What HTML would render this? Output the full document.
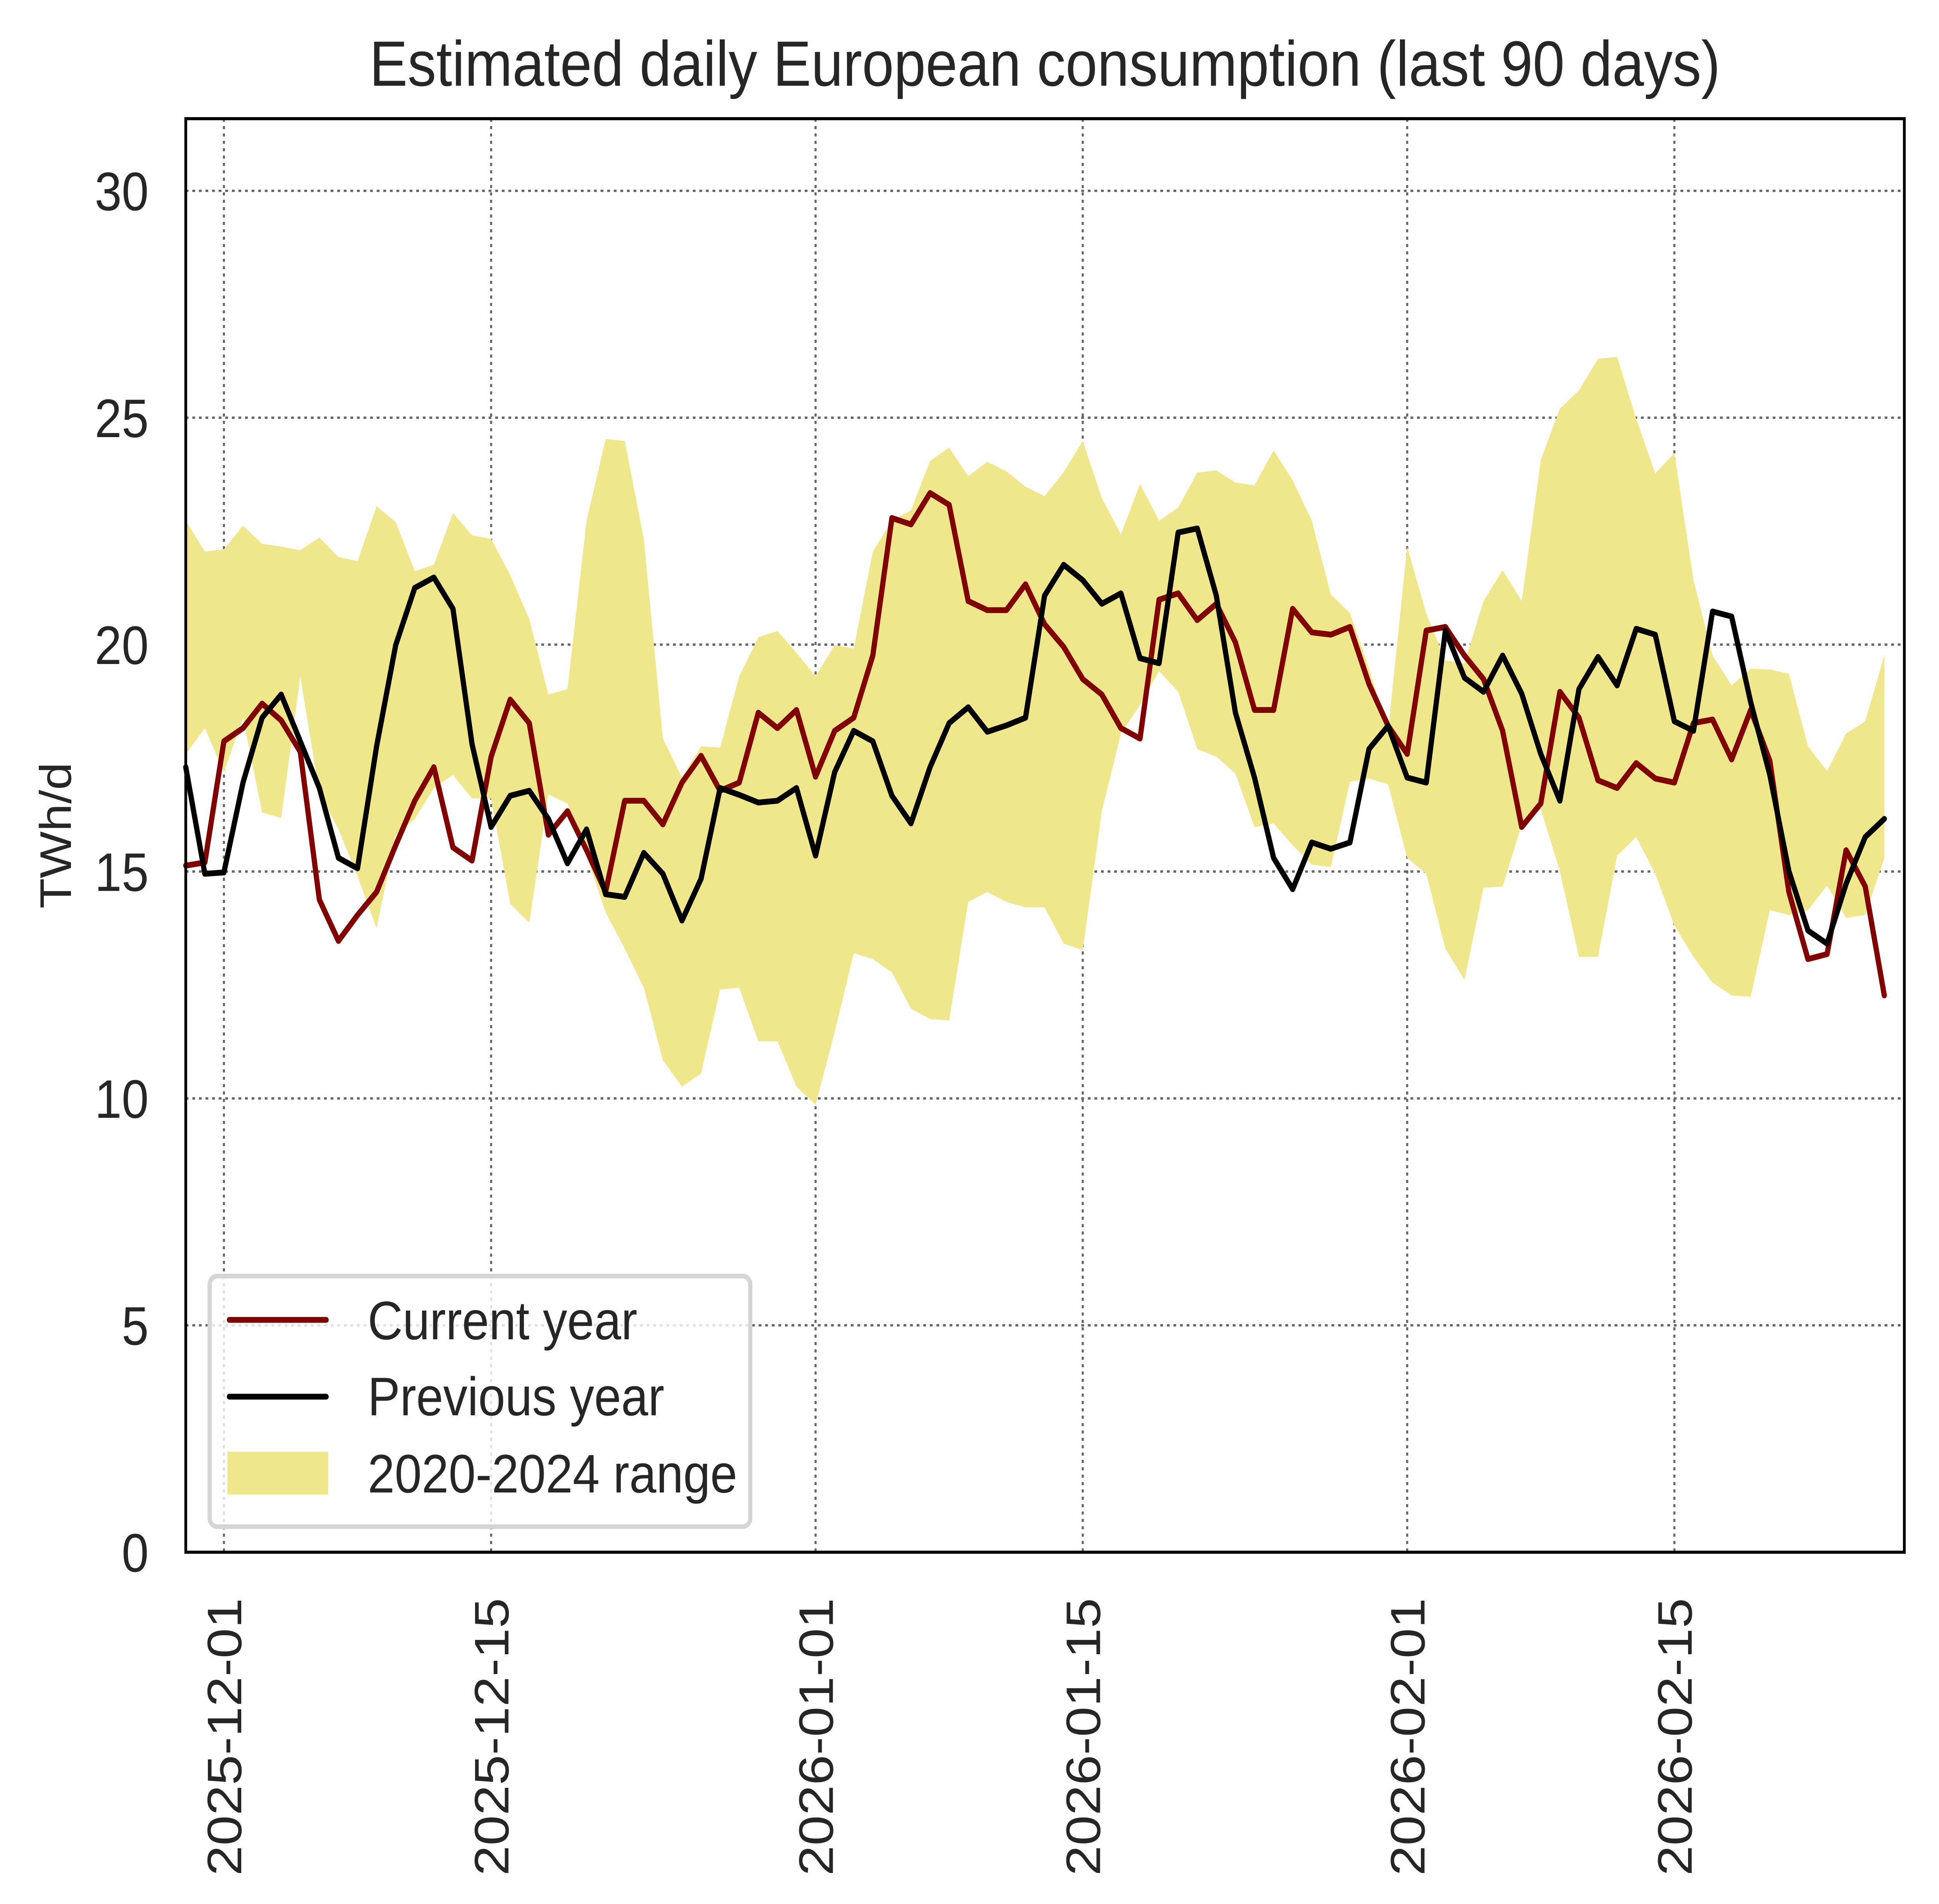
<!DOCTYPE html>
<html><head><meta charset="utf-8"><style>
html,body{margin:0;padding:0;background:#fff;width:100%;height:100%;overflow:hidden}
svg{display:block;width:100vw;height:100vh;font-family:"Liberation Sans",sans-serif}
</style></head><body>
<svg id="chart" viewBox="0 0 5595 4909" preserveAspectRatio="none" xmlns="http://www.w3.org/2000/svg" overflow="hidden">
<rect x="0" y="0" width="5595" height="4909" fill="#fff"/>
<text x="3015" y="221" font-size="165" fill="#262626" text-anchor="middle">Estimated daily European consumption (last 90 days)</text>
<text transform="translate(205,2154) rotate(-90)" font-size="128" fill="#262626" text-anchor="middle">TWh/d</text>
<g id="grid"></g>
<g id="band"></g>
<g id="lines"></g>
<g id="ticks"></g>
<rect x="536" y="306" width="4959" height="3696" fill="none" stroke="#000" stroke-width="8"/>
<g>
<rect x="605" y="3290" width="1560" height="646" rx="22" fill="#fff" fill-opacity="0.8" stroke="#d5d5d5" stroke-width="12"/>
<line x1="662" y1="3403" x2="941" y2="3403" stroke="#800000" stroke-width="15" stroke-linecap="round"/>
<text x="1061" y="3453" font-size="140" fill="#262626">Current year</text>
<line x1="662" y1="3601" x2="941" y2="3601" stroke="#000" stroke-width="15" stroke-linecap="round"/>
<text x="1061" y="3649" font-size="140" fill="#262626">Previous year</text>
<rect x="656" y="3743" width="291" height="110" fill="#f0e68c"/>
<text x="1061" y="3848" font-size="140" fill="#262626">2020-2024 range</text>
</g>
</svg>
<script>
const current = [15.13,15.2,17.87,18.16,18.7,18.33,17.64,14.38,13.47,14.04,14.55,15.58,16.56,17.3,15.53,15.24,17.53,18.79,18.27,15.81,16.33,15.47,14.55,16.56,16.56,16.04,16.96,17.55,16.78,16.96,18.5,18.16,18.56,17.09,18.1,18.39,19.76,22.79,22.65,23.34,23.08,20.96,20.76,20.76,21.33,20.45,19.95,19.24,18.9,18.16,17.93,20.99,21.13,20.54,20.9,20.05,18.56,18.56,20.79,20.27,20.22,20.39,19.13,18.21,17.59,20.31,20.39,19.76,19.24,18.1,15.98,16.5,18.96,18.39,17.01,16.84,17.39,17.05,16.96,18.27,18.35,17.47,18.56,17.44,14.55,13.07,13.18,15.47,14.67,12.27];
const previous = [17.3,14.95,14.98,16.96,18.39,18.9,17.87,16.84,15.3,15.07,17.76,19.99,21.25,21.48,20.79,17.81,15.98,16.67,16.78,16.16,15.18,15.93,14.5,14.44,15.41,14.95,13.92,14.84,16.84,16.69,16.52,16.56,16.84,15.35,17.19,18.1,17.87,16.67,16.06,17.3,18.27,18.62,18.08,18.22,18.39,21.08,21.76,21.42,20.9,21.13,19.7,19.59,22.47,22.56,21.08,18.5,17.07,15.3,14.61,15.64,15.5,15.64,17.7,18.21,17.07,16.96,20.31,19.27,18.96,19.76,18.92,17.59,16.56,19.02,19.73,19.1,20.35,20.22,18.31,18.1,20.73,20.62,18.73,17.13,15.01,13.7,13.41,14.73,15.76,16.16];
const rangeMax = [22.73,22.05,22.1,22.62,22.22,22.16,22.08,22.36,21.93,21.84,23.05,22.7,21.62,21.76,22.9,22.41,22.33,21.53,20.56,18.9,19.02,22.73,24.53,24.49,22.33,17.93,17.07,17.76,17.73,19.3,20.16,20.3,19.82,19.3,19.99,19.91,22.05,22.73,22.96,24.05,24.34,23.71,24.03,23.82,23.48,23.27,23.8,24.49,23.23,22.43,23.54,22.73,23.02,23.79,23.84,23.57,23.51,24.28,23.62,22.73,21.1,20.7,19.47,18.1,22.16,20.68,19.65,19.59,20.96,21.64,20.96,24.07,25.2,25.6,26.3,26.34,24.97,23.77,24.22,21.42,19.76,19.1,19.47,19.45,19.36,17.76,17.21,18.04,18.31,19.76];
const rangeMin = [17.59,18.16,17.19,18.39,16.3,16.18,19.3,16.73,15.93,14.9,13.75,15.81,16.16,16.84,17.13,16.61,16.61,14.29,13.87,16.7,16.5,15.35,14.1,13.3,12.44,10.84,10.26,10.55,12.4,12.44,11.26,11.26,10.26,9.86,11.46,13.2,13.07,12.78,11.98,11.75,11.72,14.33,14.55,14.33,14.21,14.21,13.41,13.27,16.33,18.04,18.67,19.42,18.96,17.7,17.53,17.16,15.98,16.06,15.58,15.15,15.1,16.98,17.05,16.92,15.3,14.95,13.3,12.61,14.64,14.67,16.04,16.38,15.01,13.12,13.12,15.35,15.76,14.95,13.81,13.12,12.55,12.27,12.24,14.15,14.04,14.15,14.69,13.98,14.04,15.3];
const xTickLabels = ["2025-12-01","2025-12-15","2026-01-01","2026-01-15","2026-02-01","2026-02-15"];
const xTickIndex = [2,16,33,47,64,78];
const yTicks = [0,5,10,15,20,25,30];

const NS="http://www.w3.org/2000/svg";
const L=536,R=5495,T=306,B=4002;
const X0=0,X1=90.05,Y0=0,Y1=31.59;
function xs(i){return L+(i-X0)/(X1-X0)*(R-L);}
function ys(v){return B-(v-Y0)/(Y1-Y0)*(B-T);}
function mk(tag,attrs,parent){const e=document.createElementNS(NS,tag);for(const k in attrs)e.setAttribute(k,attrs[k]);parent.appendChild(e);return e;}
const grid=document.getElementById('grid'),band=document.getElementById('band'),lines=document.getElementById('lines'),ticks=document.getElementById('ticks');

yTicks.forEach(v=>{
  if(v>0){const g=mk('line',{x1:L,x2:R,y1:ys(v),y2:ys(v),stroke:'#666','stroke-width':6,'stroke-dasharray':'8 11'},grid);
  
  }
  const t=mk('text',{x:429,y:ys(v)+50,'font-size':140,fill:'#262626','text-anchor':'end'},ticks);
  t.textContent=String(v);
  
  
});
xTickIndex.forEach((idx,k)=>{
  const x=xs(idx);
  const g=mk('line',{x1:x,x2:x,y1:T,y2:B,stroke:'#666','stroke-width':6,'stroke-dasharray':'8 11'},grid);
  
  
  const t=mk('text',{transform:`translate(${x+50},4120) rotate(-90)`,'font-size':140,fill:'#262626','text-anchor':'end'},ticks);
  t.textContent=xTickLabels[k];
  
  
});

let d='';
rangeMax.forEach((v,i)=>{d+=(i?'L':'M')+xs(i).toFixed(1)+','+ys(v).toFixed(1);});
for(let i=rangeMin.length-1;i>=0;i--){d+='L'+xs(i).toFixed(1)+','+ys(rangeMin[i]).toFixed(1);}
const bp=mk('path',{d:d+'Z',fill:'#f0e68c',stroke:'none'},band);



function linePath(arr){return arr.map((v,i)=>(i?'L':'M')+xs(i).toFixed(1)+','+ys(v).toFixed(1)).join('');}
const cp=mk('path',{d:linePath(current),fill:'none',stroke:'#800000','stroke-width':15,'stroke-linejoin':'round','stroke-linecap':'round'},lines);


const pp=mk('path',{d:linePath(previous),fill:'none',stroke:'#000','stroke-width':15,'stroke-linejoin':'round','stroke-linecap':'round'},lines);


</script>
</body></html>
